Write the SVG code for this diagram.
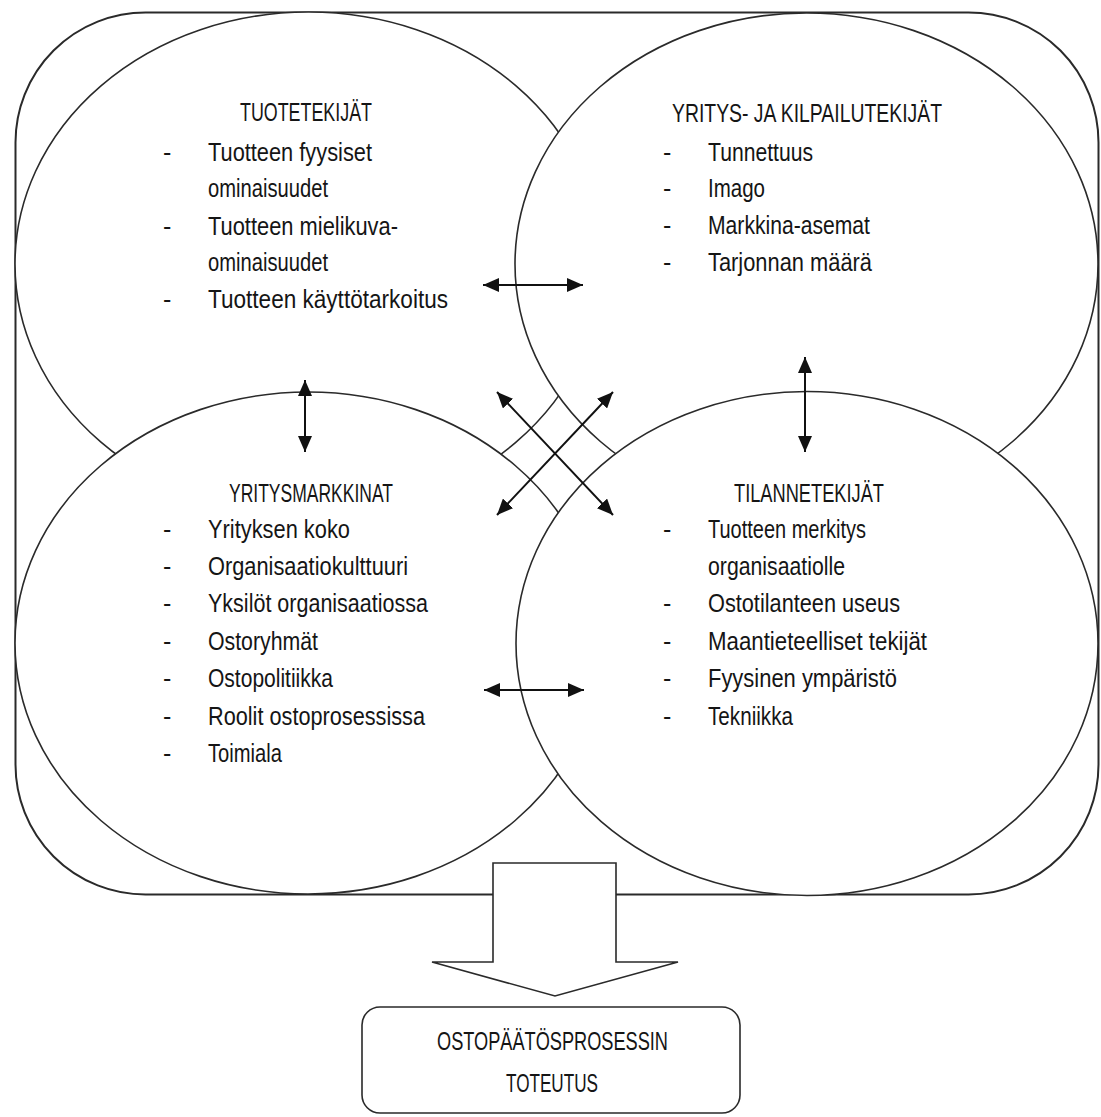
<svg xmlns="http://www.w3.org/2000/svg" width="1101" height="1117" viewBox="0 0 1101 1117">
<style>
.sh{fill:#fff;stroke:#2a2a2a;stroke-width:1.6}
.t{font-family:"Liberation Sans",Arial,sans-serif;font-size:25px;fill:#151515}
.ar{stroke:#111;stroke-width:2;fill:none;marker-start:url(#ah);marker-end:url(#ah)}
</style>
<defs>
<marker id="ah" viewBox="0 0 16 14" refX="16" refY="7" markerWidth="16" markerHeight="14" markerUnits="userSpaceOnUse" orient="auto-start-reverse">
<path d="M0,0 L16,7 L0,14 z" fill="#111"/>
</marker>
</defs>
<rect width="1101" height="1117" fill="#fff"/>
<g id="frame">
<rect class="sh" x="15.5" y="12.5" width="1083" height="882" rx="130" ry="130" style="stroke-width:2"/>
</g>
<g id="tuotetekijat">
<ellipse class="sh" cx="308.5" cy="264" rx="293.5" ry="252"/>
<text class="t" x="240" y="121" textLength="132" lengthAdjust="spacingAndGlyphs">TUOTETEKIJÄT</text>
<text class="t" x="163" y="161">-</text>
<text class="t" x="208" y="161" textLength="164" lengthAdjust="spacingAndGlyphs">Tuotteen fyysiset</text>
<text class="t" x="208" y="197" textLength="120" lengthAdjust="spacingAndGlyphs">ominaisuudet</text>
<text class="t" x="163" y="235">-</text>
<text class="t" x="208" y="235" textLength="190" lengthAdjust="spacingAndGlyphs">Tuotteen mielikuva-</text>
<text class="t" x="208" y="271" textLength="120" lengthAdjust="spacingAndGlyphs">ominaisuudet</text>
<text class="t" x="163" y="308">-</text>
<text class="t" x="208" y="308" textLength="240" lengthAdjust="spacingAndGlyphs">Tuotteen käyttötarkoitus</text>
</g>
<g id="yritystekijat">
<ellipse class="sh" cx="806.5" cy="264" rx="291.5" ry="251"/>
<text class="t" x="672" y="122" textLength="270" lengthAdjust="spacingAndGlyphs">YRITYS- JA KILPAILUTEKIJÄT</text>
<text class="t" x="663" y="161">-</text>
<text class="t" x="708" y="161" textLength="105" lengthAdjust="spacingAndGlyphs">Tunnettuus</text>
<text class="t" x="663" y="197">-</text>
<text class="t" x="708" y="197" textLength="57" lengthAdjust="spacingAndGlyphs">Imago</text>
<text class="t" x="663" y="234">-</text>
<text class="t" x="708" y="234" textLength="162" lengthAdjust="spacingAndGlyphs">Markkina-asemat</text>
<text class="t" x="663" y="271">-</text>
<text class="t" x="708" y="271" textLength="164" lengthAdjust="spacingAndGlyphs">Tarjonnan määrä</text>
</g>
<g id="yritysmarkkinat">
<ellipse class="sh" cx="308" cy="643" rx="293" ry="251"/>
<text class="t" x="229" y="502" textLength="164" lengthAdjust="spacingAndGlyphs">YRITYSMARKKINAT</text>
<text class="t" x="163" y="538">-</text>
<text class="t" x="208" y="538" textLength="142" lengthAdjust="spacingAndGlyphs">Yrityksen koko</text>
<text class="t" x="163" y="575">-</text>
<text class="t" x="208" y="575" textLength="200" lengthAdjust="spacingAndGlyphs">Organisaatiokulttuuri</text>
<text class="t" x="163" y="612">-</text>
<text class="t" x="208" y="612" textLength="220" lengthAdjust="spacingAndGlyphs">Yksilöt organisaatiossa</text>
<text class="t" x="163" y="650">-</text>
<text class="t" x="208" y="650" textLength="110" lengthAdjust="spacingAndGlyphs">Ostoryhmät</text>
<text class="t" x="163" y="687">-</text>
<text class="t" x="208" y="687" textLength="125" lengthAdjust="spacingAndGlyphs">Ostopolitiikka</text>
<text class="t" x="163" y="725">-</text>
<text class="t" x="208" y="725" textLength="217" lengthAdjust="spacingAndGlyphs">Roolit ostoprosessissa</text>
<text class="t" x="163" y="762">-</text>
<text class="t" x="208" y="762" textLength="74" lengthAdjust="spacingAndGlyphs">Toimiala</text>
</g>
<g id="tilannetekijat">
<ellipse class="sh" cx="807" cy="643.5" rx="291" ry="252"/>
<text class="t" x="734" y="502" textLength="150" lengthAdjust="spacingAndGlyphs">TILANNETEKIJÄT</text>
<text class="t" x="663" y="538">-</text>
<text class="t" x="708" y="538" textLength="158" lengthAdjust="spacingAndGlyphs">Tuotteen merkitys</text>
<text class="t" x="708" y="575" textLength="137" lengthAdjust="spacingAndGlyphs">organisaatiolle</text>
<text class="t" x="663" y="612">-</text>
<text class="t" x="708" y="612" textLength="192" lengthAdjust="spacingAndGlyphs">Ostotilanteen useus</text>
<text class="t" x="663" y="650">-</text>
<text class="t" x="708" y="650" textLength="219" lengthAdjust="spacingAndGlyphs">Maantieteelliset tekijät</text>
<text class="t" x="663" y="687">-</text>
<text class="t" x="708" y="687" textLength="189" lengthAdjust="spacingAndGlyphs">Fyysinen ympäristö</text>
<text class="t" x="663" y="725">-</text>
<text class="t" x="708" y="725" textLength="85" lengthAdjust="spacingAndGlyphs">Tekniikka</text>
</g>
<g id="connectors">
<line class="ar" x1="483" y1="285" x2="583" y2="285"/>
<line class="ar" x1="484" y1="690" x2="584" y2="690"/>
<line class="ar" x1="305" y1="380" x2="305" y2="452"/>
<line class="ar" x1="805" y1="357" x2="805" y2="452"/>
<line class="ar" x1="497" y1="392" x2="613" y2="515"/>
<line class="ar" x1="613" y1="392" x2="497" y2="515"/>
</g>
<g id="block-arrow">
<polygon class="sh" points="493,863 616,863 616,962 678,962 555,996 432,962 493,962"/>
</g>
<g id="toteutus">
<rect class="sh" x="362" y="1007" width="378" height="106" rx="18" ry="18"/>
<text class="t" x="437" y="1050" textLength="231" lengthAdjust="spacingAndGlyphs">OSTOPÄÄTÖSPROSESSIN</text>
<text class="t" x="506" y="1092" textLength="92" lengthAdjust="spacingAndGlyphs">TOTEUTUS</text>
</g>
</svg>
